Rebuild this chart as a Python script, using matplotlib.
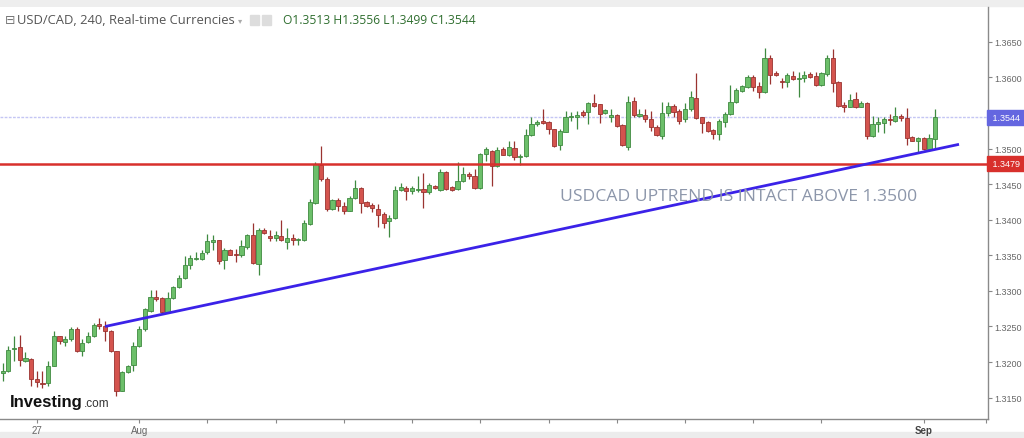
import numpy as np
import matplotlib.pyplot as plt
from matplotlib.patches import Rectangle

# USD/CAD 4h candles
opens = [
    1.3185, 1.3187, 1.3218, 1.3221, 1.3202, 1.3205, 1.3176, 1.3171, 1.3171, 1.3195,
    1.3236, 1.3228, 1.3233, 1.3247, 1.3216, 1.3228, 1.3236, 1.3254, 1.3251, 1.3244,
    1.3215, 1.3160, 1.3186, 1.3196, 1.3222, 1.3246, 1.3272, 1.3292, 1.3290, 1.3270,
    1.3290, 1.3306, 1.3318, 1.3336, 1.3345, 1.3345, 1.3354, 1.3369, 1.3371, 1.3343,
    1.3358, 1.3352, 1.3350, 1.3362, 1.3378, 1.3338, 1.3386, 1.3377, 1.3374, 1.3377,
    1.3369, 1.3374, 1.3371, 1.3371, 1.3394, 1.3424, 1.3477, 1.3457, 1.3415, 1.3428,
    1.3420, 1.3413, 1.3431, 1.3444, 1.3425, 1.3421, 1.3415, 1.3408, 1.3398, 1.3403,
    1.3442, 1.3445, 1.3440, 1.3442, 1.3443, 1.3439, 1.3448, 1.3442, 1.3467, 1.3446,
    1.3443, 1.3455, 1.3465, 1.3461, 1.3444, 1.3492, 1.3497, 1.3475, 1.3499, 1.3491,
    1.3501, 1.3488, 1.3489, 1.3519, 1.3534, 1.3539, 1.3537, 1.3527, 1.3505, 1.3524,
    1.3544, 1.3544, 1.3551, 1.3552, 1.3564, 1.3562, 1.3550, 1.3544, 1.3547, 1.3533,
    1.3502, 1.3567, 1.3546, 1.3547, 1.3542, 1.3531, 1.3518, 1.3550, 1.3560, 1.3553,
    1.3541, 1.3555, 1.3571, 1.3544, 1.3537, 1.3526, 1.3520, 1.3538, 1.3549, 1.3565,
    1.3581, 1.3587, 1.3601, 1.3588, 1.3579, 1.3628, 1.3606, 1.3595, 1.3594, 1.3602,
    1.3598, 1.3599, 1.3605, 1.3602, 1.3589, 1.3605, 1.3627, 1.3594, 1.3561, 1.3559,
    1.3570, 1.3559, 1.3564, 1.3518, 1.3535, 1.3536, 1.3542, 1.3539, 1.3546, 1.3543,
    1.3516, 1.3511, 1.3515, 1.3499, 1.3513,
]
highs = [
    1.3198, 1.3223, 1.3237, 1.3238, 1.3214, 1.3206, 1.3187, 1.3187, 1.3202, 1.3244,
    1.3237, 1.3237, 1.3249, 1.3249, 1.3233, 1.3242, 1.3255, 1.3262, 1.3258, 1.3245,
    1.3216, 1.3187, 1.3196, 1.3228, 1.3251, 1.3276, 1.3301, 1.3301, 1.3291, 1.3298,
    1.3307, 1.3322, 1.3349, 1.3350, 1.3354, 1.3357, 1.3380, 1.3378, 1.3372, 1.3361,
    1.3359, 1.3359, 1.3371, 1.3380, 1.3395, 1.3388, 1.3388, 1.3385, 1.3384, 1.3400,
    1.3388, 1.3380, 1.3375, 1.3399, 1.3429, 1.3481, 1.3503, 1.3460, 1.3429, 1.3431,
    1.3425, 1.3434, 1.3456, 1.3446, 1.3427, 1.3423, 1.3422, 1.3411, 1.3406, 1.3448,
    1.3451, 1.3447, 1.3447, 1.3461, 1.3466, 1.3451, 1.3449, 1.3471, 1.3468, 1.3448,
    1.3481, 1.3474, 1.3467, 1.3471, 1.3494, 1.3502, 1.3498, 1.3502, 1.3502, 1.3511,
    1.3511, 1.3492, 1.3527, 1.3545, 1.3540, 1.3555, 1.3539, 1.3528, 1.3527, 1.3553,
    1.3551, 1.3553, 1.3554, 1.3566, 1.3577, 1.3563, 1.3556, 1.3556, 1.3549, 1.3535,
    1.3574, 1.3573, 1.3556, 1.3556, 1.3553, 1.3533, 1.3566, 1.3565, 1.3563, 1.3555,
    1.3564, 1.3581, 1.3606, 1.3545, 1.3539, 1.3528, 1.3542, 1.3551, 1.3589, 1.3585,
    1.3589, 1.3603, 1.3603, 1.3593, 1.3642, 1.3631, 1.3609, 1.3599, 1.3606, 1.3609,
    1.3607, 1.3609, 1.3607, 1.3607, 1.3607, 1.3631, 1.3640, 1.3595, 1.3565, 1.3577,
    1.3579, 1.3567, 1.3565, 1.3546, 1.3544, 1.3544, 1.3549, 1.3559, 1.3549, 1.3557,
    1.3518, 1.3516, 1.3517, 1.3521, 1.3556,
]
lows = [
    1.3173, 1.3186, 1.3202, 1.3195, 1.3200, 1.3167, 1.3165, 1.3164, 1.3167, 1.3194,
    1.3226, 1.3223, 1.3230, 1.3214, 1.3208, 1.3227, 1.3235, 1.3247, 1.3230, 1.3214,
    1.3153, 1.3159, 1.3185, 1.3188, 1.3221, 1.3244, 1.3270, 1.3286, 1.3269, 1.3269,
    1.3289, 1.3304, 1.3317, 1.3331, 1.3343, 1.3343, 1.3352, 1.3358, 1.3338, 1.3331,
    1.3350, 1.3340, 1.3347, 1.3359, 1.3338, 1.3322, 1.3380, 1.3370, 1.3370, 1.3370,
    1.3359, 1.3365, 1.3365, 1.3370, 1.3393, 1.3422, 1.3455, 1.3412, 1.3414, 1.3413,
    1.3408, 1.3412, 1.3429, 1.3410, 1.3418, 1.3411, 1.3390, 1.3388, 1.3376, 1.3401,
    1.3440, 1.3428, 1.3436, 1.3439, 1.3416, 1.3436, 1.3443, 1.3441, 1.3442, 1.3440,
    1.3442, 1.3453, 1.3457, 1.3443, 1.3443, 1.3482, 1.3448, 1.3474, 1.3491, 1.3490,
    1.3484, 1.3477, 1.3488, 1.3518, 1.3532, 1.3534, 1.3521, 1.3502, 1.3498, 1.3523,
    1.3539, 1.3527, 1.3544, 1.3534, 1.3558, 1.3536, 1.3549, 1.3537, 1.3531, 1.3503,
    1.3498, 1.3544, 1.3544, 1.3537, 1.3525, 1.3518, 1.3513, 1.3546, 1.3545, 1.3534,
    1.3538, 1.3553, 1.3542, 1.3522, 1.3524, 1.3513, 1.3512, 1.3530, 1.3547, 1.3564,
    1.3579, 1.3585, 1.3581, 1.3571, 1.3578, 1.3591, 1.3602, 1.3585, 1.3586, 1.3596,
    1.3572, 1.3594, 1.3599, 1.3588, 1.3588, 1.3602, 1.3579, 1.3558, 1.3552, 1.3558,
    1.3557, 1.3558, 1.3513, 1.3517, 1.3523, 1.3522, 1.3533, 1.3537, 1.3539, 1.3505,
    1.3510, 1.3495, 1.3498, 1.3497, 1.3499,
]
closes = [
    1.3187, 1.3217, 1.3220, 1.3203, 1.3206, 1.3176, 1.3172, 1.3169, 1.3195, 1.3237,
    1.3229, 1.3233, 1.3247, 1.3215, 1.3227, 1.3236, 1.3252, 1.3250, 1.3244, 1.3215,
    1.3159, 1.3186, 1.3195, 1.3222, 1.3246, 1.3274, 1.3292, 1.3288, 1.3270, 1.3290,
    1.3306, 1.3318, 1.3336, 1.3346, 1.3346, 1.3353, 1.3370, 1.3371, 1.3342, 1.3358,
    1.3351, 1.3350, 1.3363, 1.3378, 1.3339, 1.3385, 1.3381, 1.3374, 1.3378, 1.3371,
    1.3374, 1.3371, 1.3373, 1.3395, 1.3425, 1.3478, 1.3457, 1.3415, 1.3428, 1.3420,
    1.3413, 1.3430, 1.3444, 1.3424, 1.3420, 1.3417, 1.3407, 1.3396, 1.3403, 1.3442,
    1.3446, 1.3440, 1.3444, 1.3443, 1.3439, 1.3449, 1.3444, 1.3467, 1.3443, 1.3442,
    1.3455, 1.3465, 1.3461, 1.3444, 1.3492, 1.3499, 1.3475, 1.3498, 1.3491, 1.3502,
    1.3488, 1.3490, 1.3519, 1.3535, 1.3538, 1.3536, 1.3527, 1.3504, 1.3525, 1.3544,
    1.3546, 1.3547, 1.3547, 1.3564, 1.3560, 1.3549, 1.3554, 1.3547, 1.3532, 1.3505,
    1.3566, 1.3547, 1.3549, 1.3541, 1.3530, 1.3519, 1.3550, 1.3560, 1.3552, 1.3539,
    1.3555, 1.3572, 1.3543, 1.3536, 1.3525, 1.3520, 1.3539, 1.3549, 1.3566, 1.3583,
    1.3588, 1.3601, 1.3586, 1.3579, 1.3628, 1.3603, 1.3604, 1.3593, 1.3603, 1.3598,
    1.3599, 1.3603, 1.3601, 1.3589, 1.3606, 1.3628, 1.3592, 1.3560, 1.3559, 1.3568,
    1.3558, 1.3564, 1.3518, 1.3535, 1.3538, 1.3542, 1.3540, 1.3546, 1.3543, 1.3515,
    1.3511, 1.3515, 1.3499, 1.3515, 1.3544,
]

yticks = [1.3150, 1.3200, 1.3250, 1.3300, 1.3350, 1.3400, 1.3450, 1.3500, 1.3550, 1.3600, 1.3650]
xtick_pos = [6, 24, 36, 48, 60, 72, 84, 96, 108, 120, 132, 144, 162, 173]
xtick_labels = {6: "27", 24: "Aug", 162: "Sep"}

support = 1.3479
last_close = closes[-1]
trend_x = [18, 168.2]
trend_y = [1.3250, 1.3506]
note = "USDCAD UPTREND IS INTACT ABOVE 1.3500"
note_at = (98.1, 1.3434)

GREEN, GREEN_EDGE = "#6cbf6a", "#3f8a40"
RED, RED_EDGE = "#d4544e", "#9a3330"

fig = plt.figure(figsize=(10.24, 4.39), dpi=100)
ax = fig.add_axes([0, 19 / 439, 988 / 1024, 412 / 439])

x = np.arange(len(opens))
o = np.array(opens)
c = np.array(closes)
up = c >= o
body_lo = np.minimum(o, c)
body_h = np.maximum(np.abs(c - o), 0.00005)

for mask, face, edge in [(up, GREEN, GREEN_EDGE), (~up, RED, RED_EDGE)]:
    ax.vlines(x[mask], np.array(lows)[mask], np.array(highs)[mask], color=edge, lw=0.9, zorder=2)
    ax.bar(x[mask], body_h[mask], bottom=body_lo[mask], width=0.74,
           color=face, edgecolor=edge, linewidth=0.6, zorder=3)

ax.axhline(last_close, color="#c4c6f4", lw=1.0, ls=(0, (2, 1)), zorder=1)
ax.axhline(support, color="#d8302c", lw=1.8, zorder=4)
ax.plot(trend_x, trend_y, color="#3b22e8", lw=2.0, zorder=5, solid_capstyle="butt")

ax.text(note_at[0], note_at[1], note, fontsize=12.6, family="Open Sans",
        color="#8c96aa", va="center", ha="left", zorder=6)

ax.set_xlim(-0.475, 173.3)
ax.set_ylim(1.3120, 1.3699)

ax.yaxis.tick_right()
ax.set_yticks(yticks)
ax.set_yticklabels([f"{v:.4f}" for v in yticks])
ax.tick_params(axis="y", length=3, width=0.8, color="#888888", pad=1.5,
               labelsize=6.5, labelcolor="#666666")
ax.set_xticks(xtick_pos)
ax.set_xticklabels([xtick_labels.get(p, "") for p in xtick_pos])
ax.tick_params(axis="x", length=3, width=0.8, color="#888888", pad=1.5,
               labelsize=7, labelcolor="#666666")
for lbl in ax.get_xticklabels() + ax.get_yticklabels():
    lbl.set_family("Liberation Sans")
ax.get_xticklabels()[-2].set_color("#444444")
ax.get_xticklabels()[-2].set_weight("bold")

for side in ["top", "left"]:
    ax.spines[side].set_visible(False)
for side in ["right", "bottom"]:
    ax.spines[side].set_color("#8a8a8a")
    ax.spines[side].set_linewidth(1.0)

# price boxes on the right axis
for val, col in [(last_close, "#6466e0"), (support, "#d8302c")]:
    ax.text(1.002, val, f" {val:.4f} ", transform=ax.get_yaxis_transform(),
            fontsize=6.5, family="Liberation Sans", color="white", va="center", ha="left",
            bbox=dict(boxstyle="square,pad=0.35", fc=col, ec=col), zorder=10, clip_on=False)

# top toolbar strip and bottom strip
fig.patches.append(Rectangle((0, 1 - 7 / 439), 1, 7 / 439, transform=fig.transFigure,
                             color="#eeeeee", zorder=-1))
fig.patches.append(Rectangle((0, 0), 1, 6 / 439, transform=fig.transFigure,
                             color="#ececec", zorder=-1))
for px in [18, 76, 102, 128, 160, 192, 220, 237, 273, 312]:
    fig.add_artist(plt.Line2D([px / 1024] * 2, [1 - 7 / 439, 1], color="#cfcfcf", lw=0.8, zorder=-1))
for px in [33, 64, 94, 127, 157, 187, 895, 953, 993]:
    fig.add_artist(plt.Line2D([px / 1024] * 2, [0, 5 / 439], color="#cfcfcf", lw=0.8, zorder=-1))

# header
hy = 1 - 21 / 439
fig.text(5 / 1024, hy, "\u229f", fontsize=9, color="#777777", va="center", family="DejaVu Sans")
fig.text(17 / 1024, hy, "USD/CAD, 240, Real-time Currencies", fontsize=9.4,
         color="#555555", va="center", family="Open Sans")
fig.text(238 / 1024, hy, "\u25be", fontsize=6, color="#aaaaaa", va="center", family="DejaVu Sans")
for px in [250, 262]:
    fig.patches.append(Rectangle((px / 1024, hy - 5 / 439), 9 / 1024, 10 / 439,
                                 transform=fig.transFigure, color="#dddddd"))
fig.text(283 / 1024, hy, "O1.3513 H1.3556 L1.3499 C1.3544", fontsize=8.7,
         color="#2f6e2f", va="center", family="Open Sans")

# logo
fig.text(10 / 1024, 1 - 403 / 439, "Investing", fontsize=12, weight="bold",
         color="#111111", va="center", family="Liberation Sans")
fig.text(84 / 1024, 1 - 404 / 439, ".com", fontsize=8.5, color="#333333",
         va="center", family="Liberation Sans")

fig.savefig("out.png", dpi=100)
